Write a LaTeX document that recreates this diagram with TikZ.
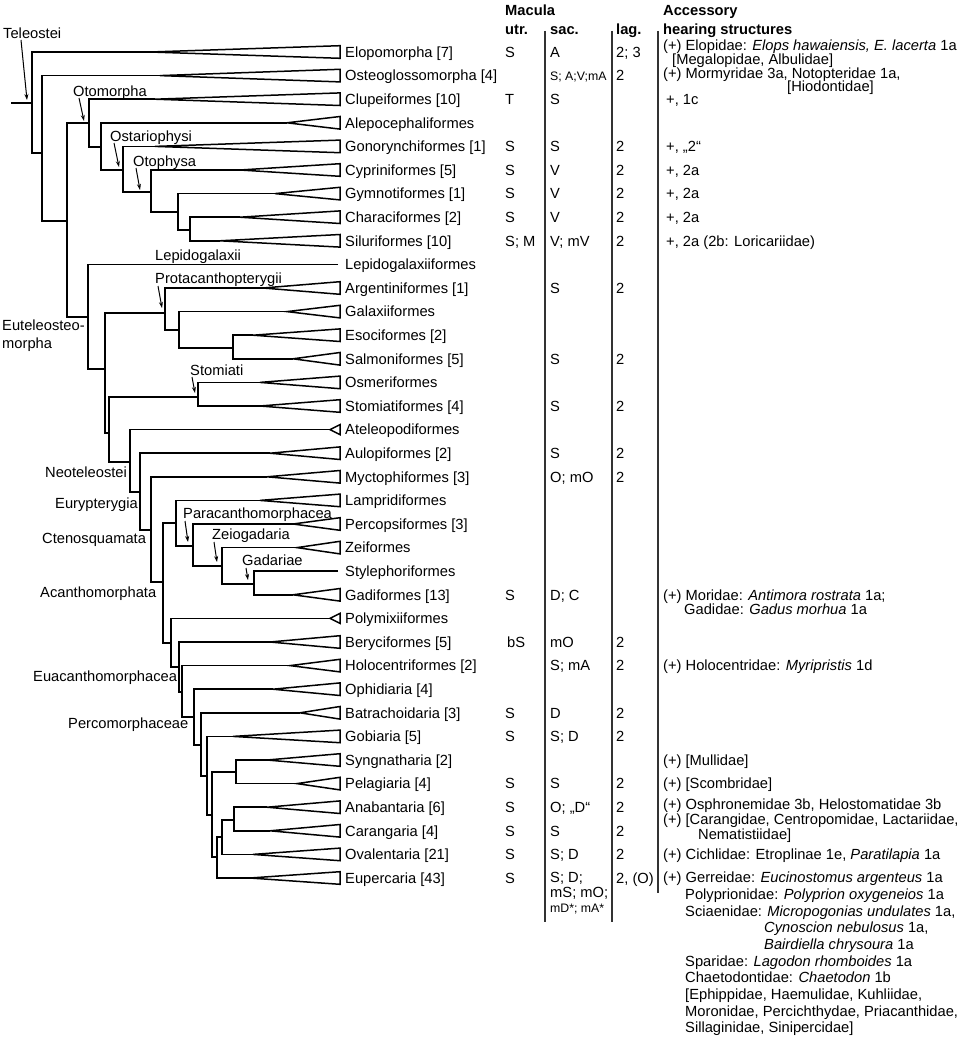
\documentclass[tikz,border=0pt]{standalone}
\usepackage{fontspec}
\setmainfont{Liberation Sans}
\usetikzlibrary{arrows.meta}
\newcommand{\fs}{\fontsize{14.7}{16}\selectfont}
\newcommand{\fsm}{\fontsize{12.3}{14}\selectfont}
\newcommand{\fork}[3]{\draw[br] (#2) -- (#1 |- #2) -- (#1 |- #3) -- (#3);}
\newcommand{\cell}[4]{\node (#1) at (#2,{52+23.6*#3+5.3}) {#4};}
\newcommand{\txtat}[4]{\node (#1) at (#2,{#3+5.3}) {#4};}
\begin{document}
\begin{tikzpicture}[x=1pt,y=-1pt,
  br/.style={line width=1.5pt,line join=miter},
  arr/.style={line width=1pt,-{Stealth[length=6pt,width=4pt]}},
  sep/.style={line width=1.3pt,draw=black!80},
  every node/.style={font=\fs,inner sep=0pt,anchor=base west}]
\useasboundingbox (0,0) rectangle (964,1041);

% ---------- leaves ----------
\foreach \i/\ax in {0/150,1/160,2/155,3/287,4/155,5/240,6/275,7/240,8/220,10/263,11/287,12/253,13/293,14/260,15/260,17/270,18/267,19/260,20/293,21/297,23/293,25/270,26/290,27/273,28/300,29/233,30/267,31/297,32/267,33/270,34/253,35/250}{
  \coordinate (L\i) at (\ax,{52+23.6*\i});
  \draw[br] (L\i) -- (340,{52+23.6*\i-6.3}) -- (340,{52+23.6*\i+6.3}) -- cycle;
}
\foreach \i in {16,24}{
  \coordinate (L\i) at (330,{52+23.6*\i});
  \draw[br] (L\i) -- (340,{52+23.6*\i-5}) -- (340,{52+23.6*\i+5}) -- cycle;
}
\foreach \i in {9,22}{
  \coordinate (L\i) at (338,{52+23.6*\i});
}
\foreach \i/\t in {0/{Elopomorpha [7]},1/{Osteoglossomorpha [4]},2/{Clupeiformes [10]},3/{Alepocephaliformes},4/{Gonorynchiformes [1]},5/{Cypriniformes [5]},6/{Gymnotiformes [1]},7/{Characiformes [2]},8/{Siluriformes [10]},9/{Lepidogalaxiiformes},10/{Argentiniformes [1]},11/{Galaxiiformes},12/{Esociformes [2]},13/{Salmoniformes [5]},14/{Osmeriformes},15/{Stomiatiformes [4]},16/{Ateleopodiformes},17/{Aulopiformes [2]},18/{Myctophiformes [3]},19/{Lampridiformes},20/{Percopsiformes [3]},21/{Zeiformes},22/{Stylephoriformes},23/{Gadiformes [13]},24/{Polymixiiformes},25/{Beryciformes [5]},26/{Holocentriformes [2]},27/{Ophidiaria [4]},28/{Batrachoidaria [3]},29/{Gobiaria [5]},30/{Syngnatharia [2]},31/{Pelagiaria [4]},32/{Anabantaria [6]},33/{Carangaria [4]},34/{Ovalentaria [21]},35/{Eupercaria [43]}}
  {\node (n\i) at (345,{52+23.6*\i+5.3}) {\t};}

% ---------- internal nodes ----------
\coordinate (root) at (11,103);
\coordinate (A) at (32,103);
\coordinate (B) at (42,153);
\coordinate (C) at (67,221);
\coordinate (D) at (89,123);
\coordinate (E) at (101,147);
\coordinate (F) at (123,170);
\coordinate (G) at (151,192);
\coordinate (H) at (178,212);
\coordinate (I) at (190,230);
\coordinate (J) at (88,317);
\coordinate (K) at (105,369);
\coordinate (PR) at (165,313);
\coordinate (PM) at (179,330);
\coordinate (PN) at (233,348);
\coordinate (SO) at (109,433);
\coordinate (ST) at (198,397);
\coordinate (NT) at (130,462);
\coordinate (ER) at (140,492);
\coordinate (CT) at (151,530);
\coordinate (AC) at (163,582);
\coordinate (UL) at (176,523);
\coordinate (PA) at (193,546);
\coordinate (ZG) at (222,566);
\coordinate (GA) at (254,584);
\coordinate (YP) at (171,643);
\coordinate (ZB) at (179,667);
\coordinate (ZH) at (182,692);
\coordinate (P1) at (194,717);
\coordinate (P2) at (201,745);
\coordinate (P3) at (207,776);
\coordinate (P4) at (212,815);
\coordinate (P5) at (236,772);
\coordinate (P6) at (217,857);
\coordinate (P7) at (222,837);
\coordinate (P8) at (234,820);

\draw[br] (root) -- (A);
\fork{A}{L0}{B}
\fork{B}{L1}{C}
\fork{C}{D}{J}
\fork{D}{L2}{E}
\fork{E}{L3}{F}
\fork{F}{L4}{G}
\fork{G}{L5}{H}
\fork{H}{L6}{I}
\fork{I}{L7}{L8}
\fork{J}{L9}{K}
\fork{K}{PR}{SO}
\fork{PR}{L10}{PM}
\fork{PM}{L11}{PN}
\fork{PN}{L12}{L13}
\fork{SO}{ST}{NT}
\fork{ST}{L14}{L15}
\fork{NT}{L16}{ER}
\fork{ER}{L17}{CT}
\fork{CT}{L18}{AC}
\fork{AC}{UL}{YP}
\fork{UL}{L19}{PA}
\fork{PA}{L20}{ZG}
\fork{ZG}{L21}{GA}
\fork{GA}{L22}{L23}
\fork{YP}{L24}{ZB}
\fork{ZB}{L25}{ZH}
\fork{ZH}{L26}{P1}
\fork{P1}{L27}{P2}
\fork{P2}{L28}{P3}
\fork{P3}{L29}{P4}
\fork{P4}{P5}{P6}
\fork{P5}{L30}{L31}
\fork{P6}{P7}{L35}
\fork{P7}{P8}{L34}
\fork{P8}{L32}{L33}

% ---------- clade labels ----------
\txtat{cTel}{3}{33}{Teleostei}
\txtat{cOto}{73}{91}{Otomorpha}
\txtat{cOst}{110}{136}{Ostariophysi}
\txtat{cOtp}{133}{161}{Otophysa}
\txtat{cLep}{155}{255}{Lepidogalaxii}
\txtat{cPro}{155}{278}{Protacanthopterygii}
\txtat{cEu1}{2}{325}{Euteleosteo-}
\txtat{cEu2}{2}{343}{morpha}
\txtat{cSto}{190}{370}{Stomiati}
\txtat{cNeo}{45}{472}{Neoteleostei}
\txtat{cEur}{55}{503}{Eurypterygia}
\txtat{cCte}{42}{538}{Ctenosquamata}
\txtat{cAca}{40}{592}{Acanthomorphata}
\txtat{cPar}{183}{513}{Paracanthomorphacea}
\txtat{cZei}{212}{534}{Zeiogadaria}
\txtat{cGad}{242}{560}{Gadariae}
\txtat{cEua}{33}{676}{Euacanthomorphacea}
\txtat{cPer}{68}{723}{Percomorphaceae}

\coordinate (a1s) at (21,40);   \coordinate (a1e) at (27,100);
\coordinate (a2s) at (79,98);   \coordinate (a2e) at (84,121);
\coordinate (a3s) at (114,143); \coordinate (a3e) at (119,167);
\coordinate (a4s) at (136,168); \coordinate (a4e) at (140,190);
\coordinate (a5s) at (158,286); \coordinate (a5e) at (162,308);
\coordinate (a6s) at (192,377); \coordinate (a6e) at (195,393);
\coordinate (a7s) at (185,521); \coordinate (a7e) at (188,542);
\coordinate (a8s) at (214,542); \coordinate (a8e) at (217,562);
\coordinate (a9s) at (246,568); \coordinate (a9e) at (248,580);
\foreach \k in {1,...,9}{\draw[arr] (a\k s) -- (a\k e);}

% ---------- table header ----------
\txtat{hMac}{505}{10}{\bfseries Macula}
\txtat{hUtr}{505}{29}{\bfseries utr.}
\txtat{hSac}{550}{29}{\bfseries sac.}
\txtat{hLag}{616}{29}{\bfseries lag.}
\txtat{hAcc}{663}{10}{\bfseries Accessory}
\txtat{hHea}{663}{29}{\bfseries hearing structures}

\draw[sep] (545,31) -- (545,922);
\draw[sep] (612,31) -- (612,922);
\draw[sep] (658,31) -- (658,893);

% utr.
\cell{u0}{505}{0}{S}
\cell{u2}{505}{2}{T}
\cell{u4}{505}{4}{S}
\cell{u5}{505}{5}{S}
\cell{u6}{505}{6}{S}
\cell{u7}{505}{7}{S}
\cell{u8}{505}{8}{S; M}
\cell{u23}{505}{23}{S}
\cell{u25}{507}{25}{bS}
\cell{u28}{505}{28}{S}
\cell{u29}{505}{29}{S}
\cell{u31}{505}{31}{S}
\cell{u32}{505}{32}{S}
\cell{u33}{505}{33}{S}
\cell{u34}{505}{34}{S}
\cell{u35}{505}{35}{S}

% sac.
\cell{s0}{550}{0}{A}
\cell{s1}{550}{1}{\fsm S; A;V;mA}
\cell{s2}{550}{2}{S}
\cell{s4}{550}{4}{S}
\cell{s5}{550}{5}{V}
\cell{s6}{550}{6}{V}
\cell{s7}{550}{7}{V}
\cell{s8}{550}{8}{V; mV}
\cell{s10}{550}{10}{S}
\cell{s13}{550}{13}{S}
\cell{s15}{550}{15}{S}
\cell{s17}{550}{17}{S}
\cell{s18}{550}{18}{O; mO}
\cell{s23}{550}{23}{D; C}
\cell{s25}{550}{25}{mO}
\cell{s26}{550}{26}{S; mA}
\cell{s28}{550}{28}{D}
\cell{s29}{550}{29}{S; D}
\cell{s31}{550}{31}{S}
\cell{s32}{550}{32}{O; „D“}
\cell{s33}{550}{33}{S}
\cell{s34}{550}{34}{S; D}
\txtat{s35}{550}{877}{S; D;}
\txtat{s35b}{550}{892}{mS; mO;}
\txtat{s35c}{550}{907}{\fsm mD*; mA*}

% lag.
\cell{l0}{616}{0}{2; 3}
\foreach \i in {1,4,5,6,7,8,10,13,15,17,18,25,26,28,29,31,32,33,34}{\cell{l\i}{616}{\i}{2}}
\cell{l35}{616}{35}{2, (O)}

% accessory hearing structures
\txtat{x0a}{663}{45}{(+) Elopidae: \textit{Elops hawaiensis, E. lacerta} 1a}
\txtat{x0b}{672}{59.5}{[Megalopidae, Albulidae]}
\txtat{x1a}{663}{73}{(+) Mormyridae 3a, Notopteridae 1a,}
\txtat{x1b}{787}{86}{[Hiodontidae]}
\cell{x2}{666}{2}{+, 1c}
\cell{x4}{666}{4}{+, „2“}
\cell{x5}{666}{5}{+, 2a}
\cell{x6}{666}{6}{+, 2a}
\cell{x7}{666}{7}{+, 2a}
\cell{x8}{666}{8}{+, 2a (2b: Loricariidae)}
\cell{x23a}{663}{23}{(+) Moridae: \textit{Antimora rostrata} 1a;}
\txtat{x23b}{684}{609}{Gadidae: \textit{Gadus morhua} 1a}
\cell{x26}{663}{26}{(+) Holocentridae: \textit{Myripristis} 1d}
\cell{x30}{663}{30}{(+) [Mullidae]}
\cell{x31}{663}{31}{(+) [Scombridae]}
\txtat{x32}{663}{804}{(+) Osphronemidae 3b, Helostomatidae 3b}
\txtat{x33a}{663}{819.5}{(+) [Carangidae, Centropomidae, Lactariidae,}
\txtat{x33b}{698}{834}{Nematistiidae]}
\cell{x34}{663}{34}{(+) Cichlidae: Etroplinae 1e, \textit{Paratilapia} 1a}
\txtat{x35a}{663}{877}{(+) Gerreidae: \textit{Eucinostomus argenteus} 1a}
\txtat{x35b}{685}{894}{Polyprionidae: \textit{Polyprion oxygeneios} 1a}
\txtat{x35c}{685}{911}{Sciaenidae: \textit{Micropogonias undulates} 1a,}
\txtat{x35d}{764}{927.5}{\textit{Cynoscion nebulosus} 1a,}
\txtat{x35e}{764}{944}{\textit{Bairdiella chrysoura} 1a}
\txtat{x35f}{685}{961}{Sparidae: \textit{Lagodon rhomboides} 1a}
\txtat{x35g}{685}{977.5}{Chaetodontidae: \textit{Chaetodon} 1b}
\txtat{x35h}{685}{994}{[Ephippidae, Haemulidae, Kuhliidae,}
\txtat{x35i}{685}{1011}{Moronidae, Percichthydae, Priacanthidae,}
\txtat{x35j}{685}{1027.5}{Sillaginidae, Sinipercidae]}
\end{tikzpicture}
\end{document}
